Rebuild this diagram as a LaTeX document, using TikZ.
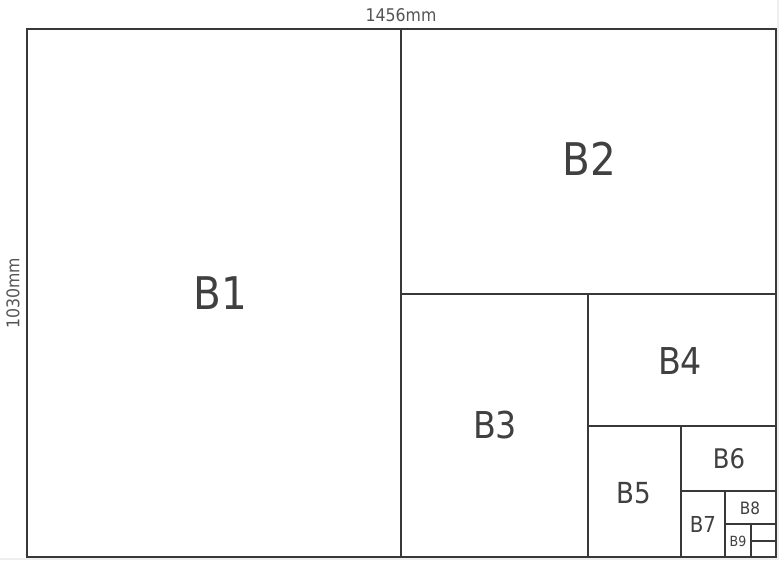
\documentclass[tikz,border=0pt]{standalone}
\usepackage{fontspec}
\setmainfont{DejaVu Sans Condensed}
\begin{document}
\begin{tikzpicture}[x=1pt,y=-1pt,
  edge/.style={draw=linec,line width=1.5pt},
  lbl/.style={text=textc,inner sep=0pt,anchor=center},
  dim/.style={text=dimc,inner sep=0pt,font=\fontsize{17.5}{19}\selectfont}]
\definecolor{linec}{HTML}{383838}
\definecolor{textc}{HTML}{404040}
\definecolor{dimc}{HTML}{555555}
\definecolor{edgegray}{HTML}{EEEEEE}
\useasboundingbox (0,0) rectangle (779,560);
\fill[edgegray] (0,0) rectangle (779,560);
\fill[white] (0,0) rectangle (777,558);
% sheets
\draw[edge] (27,29) rectangle (776,557);
\draw[edge] (401,29) -- (401,557);
\draw[edge] (401,294) -- (776,294);
\draw[edge] (588,294) -- (588,557);
\draw[edge] (588,426) -- (776,426);
\draw[edge] (681,426) -- (681,557);
\draw[edge] (681,491) -- (776,491);
\draw[edge] (725,491) -- (725,557);
\draw[edge] (725,524) -- (776,524);
\draw[edge] (751,524) -- (751,557);
\draw[edge] (751,541) -- (776,541);
% labels
\node[lbl,font=\fontsize{45}{47}\selectfont] (b1) at (220,293) {B1};
\node[lbl,font=\fontsize{45}{47}\selectfont] (b2) at (589,159) {B2};
\node[lbl,font=\fontsize{37}{39}\selectfont] (b3) at (495,425) {B3};
\node[lbl,font=\fontsize{37}{39}\selectfont] (b4) at (680,361) {B4};
\node[lbl,font=\fontsize{29}{31}\selectfont] (b5) at (634,493) {B5};
\node[lbl,font=\fontsize{27}{29}\selectfont] (b6) at (729,459) {B6};
\node[lbl,font=\fontsize{22}{24}\selectfont] (b7) at (703,524) {B7};
\node[lbl,font=\fontsize{17}{19}\selectfont] (b8) at (750,508) {B8};
\node[lbl,font=\fontsize{14}{16}\selectfont] (b9) at (738,541) {B9};
\node[dim] (w) at (401,15) {1456mm};
\node[dim,rotate=90] (h) at (13,293) {1030mm};
\end{tikzpicture}
\end{document}
